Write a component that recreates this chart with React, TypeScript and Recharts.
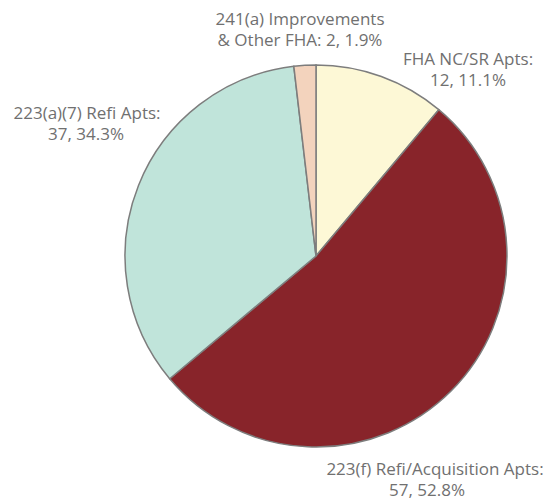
import React from "react";
import { PieChart, Pie, Cell } from "recharts";

const categories = [
  "FHA NC/SR Apts:",
  "223(f) Refi/Acquisition Apts:",
  "223(a)(7) Refi Apts:",
  "241(a) Improvements|& Other FHA:",
];
const counts = [12, 57, 37, 2];
const percents = ["11.1%", "52.8%", "34.3%", "1.9%"];
const colors = ["#FDF8D6", "#88242A", "#C0E4DA", "#F3D3BD"];

// label layout (offsets from pie center) — styling only
const labelLayout = [
  { l1: [152, -198], l2: [152, -177] },
  { l1: [119, 212], l2: [111, 233] },
  { l1: [-229, -144], l2: [-230, -123] },
  { l1: [-16, -238], l2: [-16, -217] },
];

const data = categories.map((name, i) => ({
  name,
  value: counts[i],
  pct: percents[i],
}));

const FONT = "'Open Sans', sans-serif";
const TEXT_COLOR = "#707070";
const FONT_SIZE = 17;

const renderLabel = (props: any) => {
  const { cx, cy, index } = props;
  const d = data[index];
  const lay = labelLayout[index];
  let line1: string;
  let line2: string;
  if (d.name.includes("|")) {
    const [a, b] = d.name.split("|");
    line1 = a;
    line2 = `${b} ${d.value}, ${d.pct}`;
  } else {
    line1 = d.name;
    line2 = `${d.value}, ${d.pct}`;
  }
  return (
    <g key={`lbl-${index}`}>
      <text
        x={cx + lay.l1[0]}
        y={cy + lay.l1[1]}
        textAnchor="middle"
        dominantBaseline="central"
        fill={TEXT_COLOR}
        fontFamily={FONT}
        fontSize={FONT_SIZE}
      >
        {line1}
      </text>
      <text
        x={cx + lay.l2[0]}
        y={cy + lay.l2[1]}
        textAnchor="middle"
        dominantBaseline="central"
        fill={TEXT_COLOR}
        fontFamily={FONT}
        fontSize={FONT_SIZE}
      >
        {line2}
      </text>
    </g>
  );
};

export default function App() {
  return (
    <div style={{ position: "absolute", left: 0, top: 0, width: 550, height: 501, background: "#fff" }}>
      <PieChart width={550} height={501} margin={{ top: 0, right: 0, bottom: 0, left: 0 }}>
        <Pie
          data={data}
          dataKey="value"
          nameKey="name"
          cx={316}
          cy={256}
          outerRadius={191}
          startAngle={90}
          endAngle={-270}
          stroke="#7d7d7d"
          strokeWidth={1.5}
          label={renderLabel}
          labelLine={false}
          isAnimationActive={false}
        >
          {data.map((_, i) => (
            <Cell key={i} fill={colors[i]} />
          ))}
        </Pie>
      </PieChart>
    </div>
  );
}
